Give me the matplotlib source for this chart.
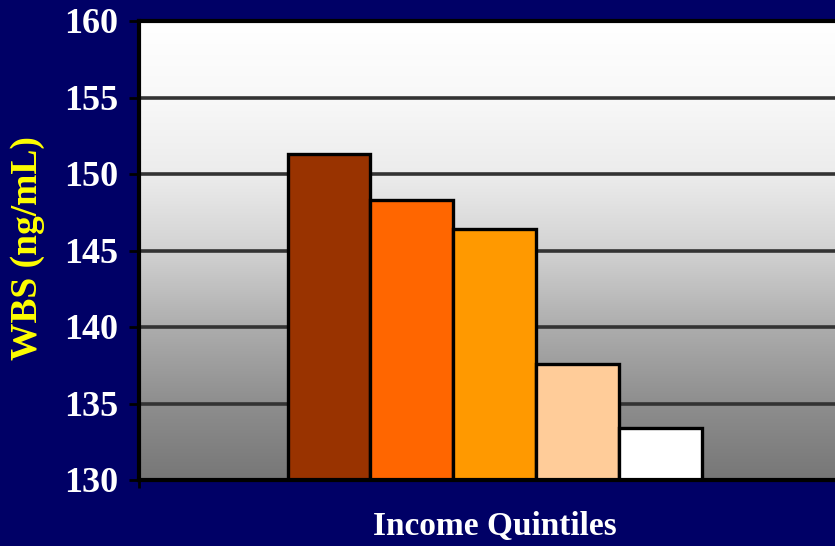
import matplotlib.pyplot as plt
import numpy as np
from matplotlib.colors import LinearSegmentedColormap

# data
quintiles = ['Q1', 'Q2', 'Q3', 'Q4', 'Q5']
wbs = [151.3, 148.3, 146.4, 137.6, 133.4]
bar_colors = ['#993300', '#FF6600', '#FF9900', '#FFCC99', '#FFFFFF']
yticks = [130, 135, 140, 145, 150, 155, 160]

navy = '#000066'
plt.rcParams['font.family'] = ['Liberation Serif', 'DejaVu Serif']
plt.rcParams['font.weight'] = 'bold'

fig = plt.figure(figsize=(8.35, 5.46), dpi=100, facecolor=navy)
ax = fig.add_axes([139 / 835, 1 - 480 / 546, 1 - 139 / 835 + 0.01, 459 / 546])

xs = np.arange(len(quintiles))
xlim = (-2.29, 6.2)
ax.set_xlim(*xlim)
ax.set_ylim(130, 160)

# grey gradient background of plot area (lighter for longer near the top)
grad = LinearSegmentedColormap.from_list('g', [
    (0.0, '#777777'), (1 / 6, '#8e8e8e'), (2 / 6, '#adadad'),
    (3 / 6, '#d2d2d2'), (4 / 6, '#ececec'), (5 / 6, '#f8f8f8'), (1.0, '#ffffff')])
ax.imshow(np.linspace(0, 1, 256).reshape(-1, 1), cmap=grad, aspect='auto',
          extent=[xlim[0], xlim[1], 130, 160], origin='lower', zorder=0)

for y in yticks[1:-1]:
    ax.axhline(y, color='#333333', lw=2.6, zorder=1)

ax.bar(xs, [v - 130 for v in wbs], bottom=130, width=1.0, color=bar_colors,
       edgecolor='black', linewidth=2.4, zorder=2)

ax.set_yticks(yticks)
ax.set_yticklabels([str(t) for t in yticks], color='white', fontsize=26, fontweight='bold')
ax.set_xticks([xlim[0]])
ax.set_xticklabels([''])
ax.tick_params(axis='y', direction='out', length=7, width=2, color='black', pad=8)
ax.tick_params(axis='x', direction='out', length=6, width=2, color='black')

for s in ['left', 'top', 'bottom']:
    ax.spines[s].set_linewidth(3)
    ax.spines[s].set_color('black')
ax.spines['right'].set_visible(False)

fig.text(28 / 835, 1 - 248 / 546, 'WBS (ng/mL)', color='#FFFF00', fontsize=27,
         fontweight='bold', rotation=90, ha='center', va='center')
fig.text(495 / 835, 1 - 527 / 546, 'Income Quintiles', color='white', fontsize=24,
         fontweight='bold', ha='center', va='center')

fig.savefig('out.png', dpi=100, facecolor=navy)
